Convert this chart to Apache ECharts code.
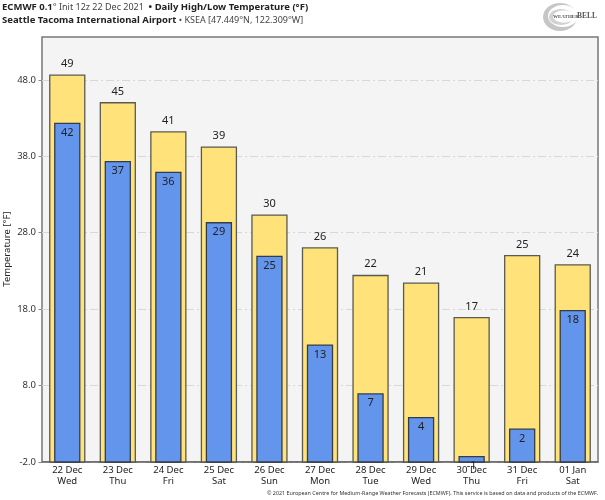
<!DOCTYPE html>
<html>
<head>
<meta charset="utf-8">
<style>
  html, body { margin: 0; padding: 0; background: #fff; }
  #chart { width: 605px; height: 500px; }
</style>
<script src="https://cdn.jsdelivr.net/npm/echarts@6/dist/echarts.min.js"></script>
</head>
<body>
<div id="chart"></div>
<script>
const categories = ["22 Dec\nWed", "23 Dec\nThu", "24 Dec\nFri", "25 Dec\nSat", "26 Dec\nSun", "27 Dec\nMon", "28 Dec\nTue", "29 Dec\nWed", "30 Dec\nThu", "31 Dec\nFri", "01 Jan\nSat"];
// bar heights; the labels show them rounded
const highs = [48.6, 45.0, 41.2, 39.2, 30.3, 26.0, 22.4, 21.4, 16.9, 25.0, 23.8];
const lows = [42.3, 37.3, 35.9, 29.3, 24.9, 13.3, 6.9, 3.8, -1.3, 2.3, 17.8];
const axisMin = -2;

const font = "Noto Sans";
const chart = echarts.init(document.getElementById("chart"));

// bars stand on the axis minimum, not on zero, so they go through a custom series
function barRenderer(barWidth, fill, stroke, labelPos, labelDist) {
  return function (params, api) {
    const top = api.coord([api.value(0), api.value(1)]);
    const base = api.coord([api.value(0), axisMin]);
    return {
      type: "rect",
      shape: { x: top[0] - barWidth / 2, y: top[1], width: barWidth, height: base[1] - top[1] },
      style: { fill: fill, stroke: stroke, lineWidth: 1.3 },
      textContent: {
        style: { text: String(Math.round(api.value(1))), fill: "#222", font: "11px 'Noto Sans'" }
      },
      textConfig: { position: labelPos, distance: labelDist }
    };
  };
}

chart.setOption({
  animation: false,
  backgroundColor: "#fff",
  textStyle: { fontFamily: font },
  title: [
    {
      left: 2, top: 2, padding: 0,
      text: "{b|ECMWF 0.1}{n|° Init 12z 22 Dec 2021  }{b|• Daily High/Low Temperature (°F)}",
      textStyle: { rich: {
        b: { fontFamily: font, fontSize: 9.5, fontWeight: "bold", color: "#222" },
        n: { fontFamily: font, fontSize: 9, fontWeight: "normal", color: "#444" }
      } }
    },
    {
      left: 2, top: 15, padding: 0,
      text: "{b|Seattle Tacoma International Airport }{n|• KSEA [47.449°N, 122.309°W]}",
      textStyle: { rich: {
        b: { fontFamily: font, fontSize: 9.5, fontWeight: "bold", color: "#222" },
        n: { fontFamily: font, fontSize: 9, fontWeight: "normal", color: "#444" }
      } }
    }
  ],
  grid: {
    left: 42, right: 7, top: 37, bottom: 38,
    outerBoundsMode: "none",
    show: true, backgroundColor: "#f4f4f4", borderColor: "#777", borderWidth: 1.5
  },
  xAxis: {
    type: "category", data: categories,
    axisLine: { onZero: false, lineStyle: { color: "#666", width: 1.5 } },
    axisTick: { show: false },
    axisLabel: { color: "#222", fontSize: 9.5, lineHeight: 11, margin: 3, interval: 0 }
  },
  yAxis: {
    type: "value", min: axisMin, max: 53.6, interval: 10,
    axisLine: { show: false },
    axisTick: { show: true, length: 3.5, lineStyle: { color: "#888" } },
    axisLabel: { color: "#333", fontSize: 9.5, margin: 6, showMaxLabel: false,
      formatter: v => v.toFixed(1) },
    splitLine: { lineStyle: { color: "#d8d8d8", type: [8, 3, 2, 3] }, showMaxLine: false }
  },
  series: [
    {
      name: "High", type: "custom", data: highs.map((v, i) => [i, v]),
      renderItem: barRenderer(35, "#ffe27a", "#5a5a50", "top", 5),
      clip: false, z: 2
    },
    {
      name: "Low", type: "custom", data: lows.map((v, i) => [i, v]),
      renderItem: barRenderer(25, "#6495ed", "#333c4a", "insideTop", 4.5),
      clip: false, z: 3
    }
  ],
  graphic: [
    { type: "text", x: 7, y: 249, rotation: Math.PI / 2,
      style: { text: "Temperature [°F]", fill: "#222", font: "9.5px 'Noto Sans'", align: "center", verticalAlign: "middle" } },
    { type: "ellipse", shape: { cx: 560, cy: 17, rx: 17, ry: 14 }, style: { fill: "#c6c6c6" } },
    { type: "ellipse", shape: { cx: 563, cy: 16, rx: 15, ry: 11 }, style: { fill: "#fff" } },
    { type: "ellipse", shape: { cx: 561, cy: 17, rx: 12, ry: 8 }, style: { fill: "#d2d2d2" } },
    { type: "ellipse", shape: { cx: 564, cy: 16.5, rx: 11, ry: 6 }, style: { fill: "#fff" } },
    { type: "text", x: 553, y: 14, style: { text: "WEATHER", fill: "#555", font: "bold 5px 'Liberation Serif'" } },
    { type: "text", x: 577, y: 12.5, style: { text: "BELL", fill: "#555", font: "bold 7.5px 'Liberation Serif'" } },
    { type: "text", right: 7, bottom: 4, style: { text: "© 2021 European Centre for Medium-Range Weather Forecasts (ECMWF). This service is based on data and products of the ECMWF.", fill: "#333", font: "5.4px 'Noto Sans'" } }
  ]
});
</script>
</body>
</html>
